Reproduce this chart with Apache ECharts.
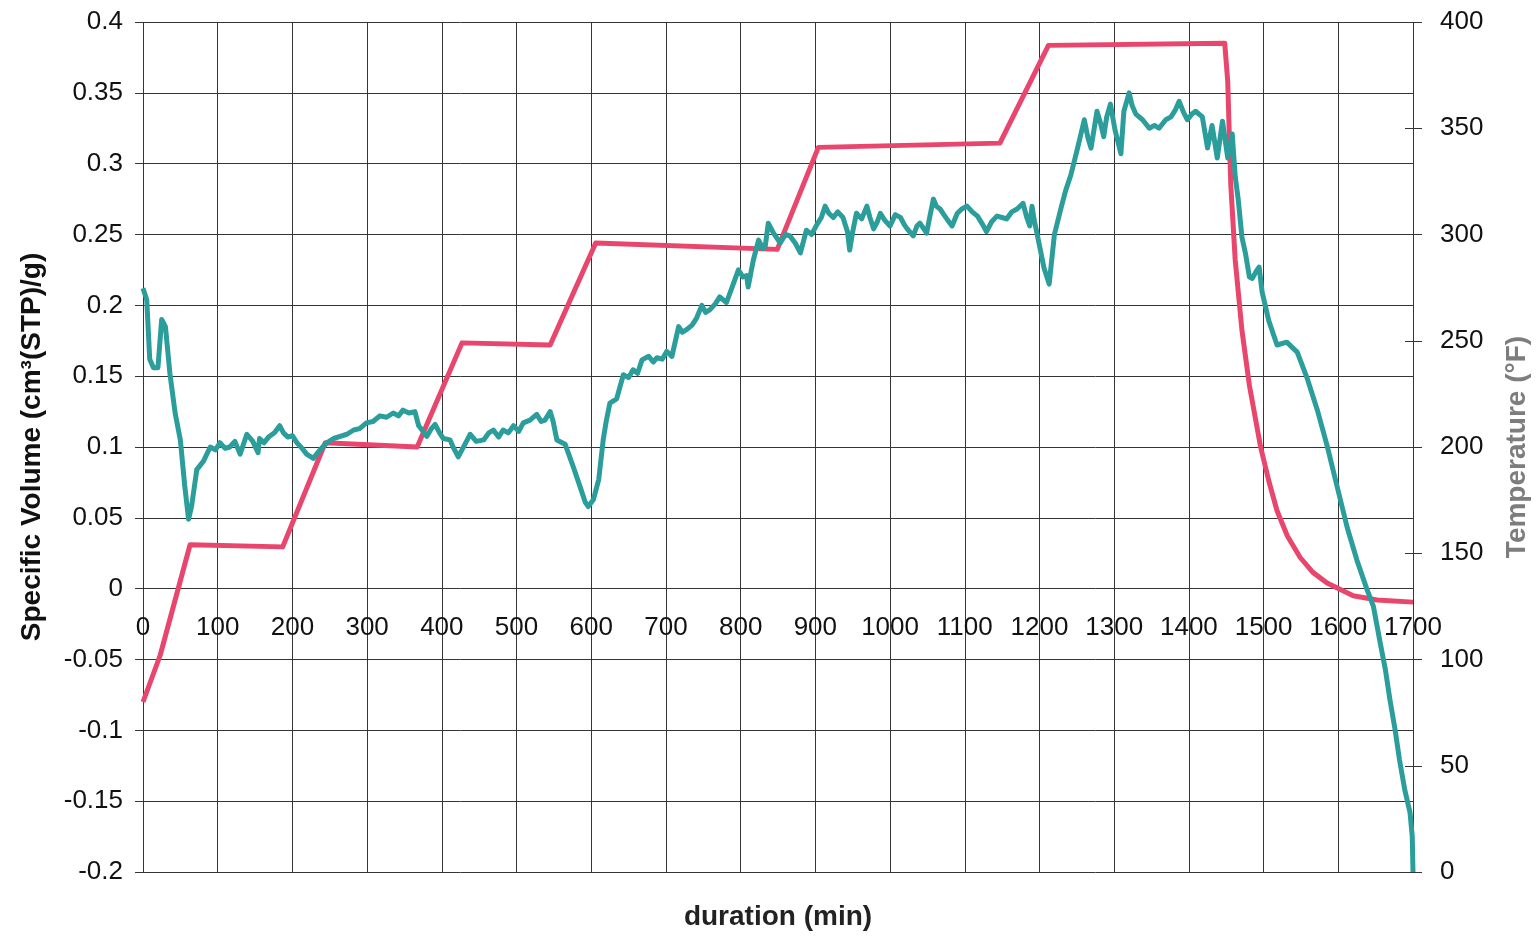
<!DOCTYPE html>
<html>
<head>
<meta charset="utf-8">
<title>Specific volume and temperature vs duration</title>
<script src="https://cdn.jsdelivr.net/npm/echarts@6/dist/echarts.min.js"></script>
<style>
  html, body { margin: 0; padding: 0; background: #fff; }
  #chart { width: 1540px; height: 937px; }
</style>
</head>
<body>
<div id="chart"></div>
<script>
// Specific volume trace (left axis), duration in minutes
const volTime = [
  0, 5, 9, 14, 20, 25, 30, 36, 43, 50, 56, 61, 65, 72, 81, 90, 97, 103, 110, 116,
  123, 130, 139, 147, 154, 156, 162, 168, 176, 183, 188, 194, 200, 206, 213, 219, 228, 237, 246, 255,
  264, 273, 282, 290, 299, 308, 317, 326, 335, 342, 348, 356, 364, 369, 375, 380, 386, 391, 397, 402,
  411, 416, 422, 430, 438, 446, 456, 463, 469, 476, 482, 489, 496, 503, 509, 518, 527, 533, 538, 545,
  549, 554, 565, 576, 585, 592, 596, 603, 610, 616, 620, 625, 634, 643, 650, 656, 662, 668, 677, 683,
  688, 695, 701, 708, 717, 722, 728, 735, 741, 748, 753, 759, 766, 772, 781, 788, 797, 803, 808, 810,
  817, 824, 830, 833, 837, 844, 853, 860, 866, 873, 880, 888, 895, 902, 908, 913, 918, 924, 930, 937,
  943, 946, 950, 955, 962, 969, 973, 978, 983, 987, 993, 1000, 1007, 1014, 1019, 1023, 1031, 1036, 1040, 1049,
  1053, 1058, 1062, 1067, 1072, 1076, 1083, 1090, 1096, 1103, 1110, 1117, 1124, 1129, 1136, 1143, 1150, 1156, 1163, 1170,
  1178, 1183, 1187, 1190, 1193, 1197, 1202, 1206, 1213, 1220, 1229, 1235, 1242, 1251, 1256, 1260, 1265, 1269, 1277, 1282,
  1286, 1290, 1295, 1301, 1309, 1313, 1320, 1324, 1329, 1338, 1347, 1354, 1360, 1369, 1376, 1382, 1387, 1393, 1398, 1404,
  1409, 1418, 1425, 1431, 1438, 1445, 1452, 1458, 1462, 1466, 1471, 1476, 1481, 1485, 1490, 1494, 1498, 1507, 1518, 1531,
  1539, 1545, 1558, 1572, 1585, 1598, 1612, 1625, 1638, 1647, 1656, 1663, 1669, 1676, 1682, 1689, 1696, 1699, 1700
];
const volValue = [
  0.212, 0.204, 0.162, 0.156, 0.156, 0.190, 0.185, 0.152, 0.124, 0.105, 0.072, 0.049, 0.058, 0.084, 0.090, 0.100, 0.098, 0.103, 0.099, 0.100,
  0.104, 0.095, 0.109, 0.104, 0.096, 0.106, 0.103, 0.107, 0.110, 0.115, 0.110, 0.107, 0.108, 0.103, 0.099, 0.095, 0.092, 0.098, 0.103, 0.106,
  0.1075, 0.109, 0.112, 0.113, 0.117, 0.118, 0.122, 0.121, 0.124, 0.122, 0.126, 0.124, 0.125, 0.115, 0.111, 0.1075, 0.113, 0.116, 0.110, 0.106,
  0.105, 0.099, 0.093, 0.101, 0.109, 0.104, 0.105, 0.110, 0.112, 0.107, 0.112, 0.110, 0.115, 0.111, 0.117, 0.119, 0.123, 0.118, 0.119, 0.125,
  0.118, 0.105, 0.102, 0.086, 0.072, 0.061, 0.058, 0.063, 0.077, 0.105, 0.118, 0.131, 0.134, 0.151, 0.149, 0.1545, 0.152, 0.1615, 0.164, 0.160,
  0.163, 0.162, 0.1675, 0.164, 0.185, 0.181, 0.183, 0.186, 0.191, 0.200, 0.195, 0.197, 0.201, 0.206, 0.202, 0.212, 0.225, 0.220, 0.221, 0.213,
  0.232, 0.246, 0.240, 0.242, 0.258, 0.251, 0.244, 0.250, 0.249, 0.244, 0.237, 0.253, 0.250, 0.257, 0.262, 0.270, 0.265, 0.262, 0.266, 0.262,
  0.252, 0.239, 0.252, 0.265, 0.261, 0.270, 0.262, 0.254, 0.259, 0.265, 0.260, 0.256, 0.264, 0.262, 0.257, 0.254, 0.249, 0.256, 0.258, 0.251,
  0.262, 0.275, 0.270, 0.268, 0.264, 0.261, 0.256, 0.265, 0.268, 0.270, 0.266, 0.263, 0.257, 0.252, 0.259, 0.263, 0.262, 0.261, 0.266, 0.268,
  0.272, 0.262, 0.256, 0.270, 0.260, 0.250, 0.237, 0.2265, 0.215, 0.250, 0.269, 0.281, 0.292, 0.311, 0.322, 0.331, 0.318, 0.311, 0.337, 0.328,
  0.319, 0.333, 0.342, 0.324, 0.307, 0.337, 0.350, 0.341, 0.335, 0.331, 0.325, 0.327, 0.325, 0.331, 0.333, 0.338, 0.344, 0.336, 0.331, 0.335,
  0.337, 0.333, 0.311, 0.327, 0.304, 0.330, 0.304, 0.321, 0.291, 0.275, 0.248, 0.236, 0.220, 0.219, 0.224, 0.227, 0.2095, 0.189, 0.172, 0.174,
  0.170, 0.167, 0.149, 0.126, 0.101, 0.073, 0.043, 0.020, 0.000, -0.0125, -0.038, -0.057, -0.078, -0.0995, -0.121, -0.142, -0.158, -0.175, -0.200
];

// Temperature programme (right axis, °F)
const tempTime = [0, 23, 63, 187, 244, 367, 427, 545, 606, 849, 904, 1147, 1212, 1448,
  1452, 1456, 1462, 1471, 1481, 1496, 1507, 1518, 1532, 1549, 1566, 1585, 1620, 1652, 1700];
const tempValue = [80, 102, 154, 153, 202, 200, 249, 248, 296, 293, 341, 343, 389, 390,
  372, 324, 288, 255, 229, 200, 184, 170, 158, 148, 141, 136, 130, 128, 127];

// Axis ranges and tick spacing
const xRange = [0, 1700, 100];
const volRange = [-0.2, 0.4, 0.05];
const tempRange = [0, 400, 50];

const volData = volTime.map((t, i) => [t, volValue[i]]);
const tempData = tempTime.map((t, i) => [t, tempValue[i]]);

const FONT = 'Liberation Sans, Arial, Helvetica, sans-serif';
const GRID_COLOR = '#353535';

// plot box in pixels; the duration labels sit on the zero line of the volume axis
const PLOT = { left: 143, right: 127, top: 22, bottom: 65 };
const plotHeight = 937 - PLOT.top - PLOT.bottom;
const zeroFromBottom = plotHeight * (0 - volRange[0]) / (volRange[1] - volRange[0]);

const chart = echarts.init(document.getElementById('chart'), null, { renderer: 'canvas' });

chart.setOption({
  animation: false,
  backgroundColor: '#ffffff',
  grid: { left: PLOT.left, right: PLOT.right, top: PLOT.top, bottom: PLOT.bottom, containLabel: false, outerBoundsMode: 'none' },
  xAxis: {
    type: 'value',
    position: 'bottom',
    offset: -zeroFromBottom,
    min: xRange[0], max: xRange[1], interval: xRange[2],
    name: 'duration (min)',
    nameLocation: 'middle',
    nameGap: 315,
    nameTextStyle: { fontFamily: FONT, fontSize: 28, fontWeight: 'bold', color: '#222' },
    axisLine: { show: false, onZero: false },
    axisTick: { show: false },
    axisLabel: {
      fontFamily: FONT, fontSize: 26, color: '#111', margin: 26,
      showMinLabel: true, showMaxLabel: true,
      formatter: v => String(v)
    },
    splitLine: { show: true, lineStyle: { color: GRID_COLOR, width: 1 } }
  },
  yAxis: [
    {
      type: 'value',
      position: 'left',
      min: volRange[0], max: volRange[1], interval: volRange[2],
      name: 'Specific Volume (cm³(STP)/g)',
      nameLocation: 'middle',
      nameGap: 97,
      nameTextStyle: { fontFamily: FONT, fontSize: 28, fontWeight: 'bold', color: '#111' },
      axisLine: { show: false },
      axisTick: { show: true, length: 8, lineStyle: { color: GRID_COLOR } },
      axisLabel: { fontFamily: FONT, fontSize: 26, color: '#111', margin: 20 },
      splitLine: { show: true, lineStyle: { color: GRID_COLOR, width: 1 } }
    },
    {
      type: 'value',
      position: 'right',
      min: tempRange[0], max: tempRange[1], interval: tempRange[2],
      name: 'Temperature (°F)',
      nameLocation: 'middle',
      nameGap: 90,
      nameTextStyle: { fontFamily: FONT, fontSize: 28, fontWeight: 'bold', color: '#7d7d7d' },
      axisLine: { show: false },
      axisTick: { show: true, length: 9, lineStyle: { color: GRID_COLOR } },
      axisLabel: { fontFamily: FONT, fontSize: 26, color: '#111', margin: 27 },
      splitLine: { show: false }
    },
    {
      // inner half of the cross-shaped temperature ticks
      type: 'value',
      position: 'right',
      min: tempRange[0], max: tempRange[1], interval: tempRange[2],
      axisLine: { show: false },
      axisTick: { show: true, inside: true, length: 8, lineStyle: { color: GRID_COLOR } },
      axisLabel: { show: false },
      splitLine: { show: false }
    }
  ],
  series: [
    {
      name: 'Temperature',
      type: 'line',
      yAxisIndex: 1,
      data: tempData,
      showSymbol: false,
      symbol: 'none',
      lineStyle: { color: '#e8466d', width: 5, join: 'round' },
      z: 2
    },
    {
      name: 'Specific Volume',
      type: 'line',
      yAxisIndex: 0,
      data: volData,
      showSymbol: false,
      symbol: 'none',
      lineStyle: { color: '#2b9e9b', width: 5, join: 'round' },
      z: 3
    }
  ]
});
</script>
</body>
</html>
